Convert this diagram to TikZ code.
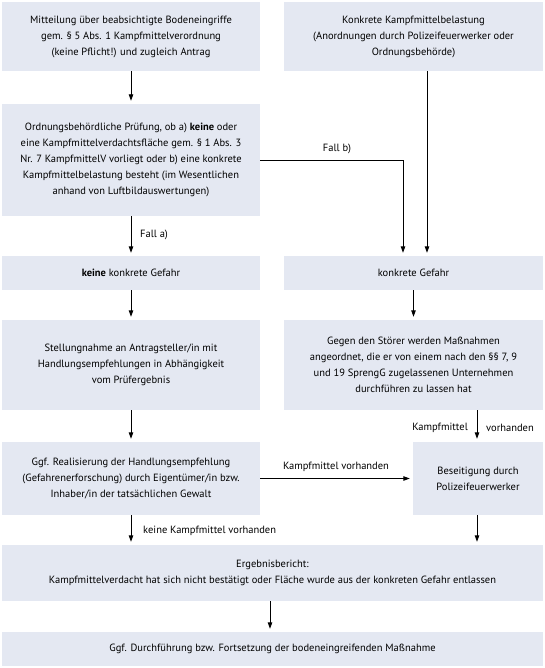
\documentclass[tikz,border=0pt]{standalone}
\usepackage{fontspec}
\setmainfont{PT Sans}
\usetikzlibrary{arrows.meta}
\definecolor{boxfill}{HTML}{E4E8F2}
\begin{document}
\begin{tikzpicture}[x=1pt,y=-1pt,
 box/.style={fill=boxfill, draw=none, align=center, font=\fontsize{10.5}{16}\selectfont, inner sep=0pt},
 arr/.style={-{Triangle[length=6.5pt,width=4.5pt]}, line width=0.9pt, shorten >=3pt},
 lbl/.style={font=\fontsize{10.5}{12}\selectfont, inner sep=0pt}]
\useasboundingbox (0,0) rectangle (545,668);
\node[box, minimum width=258pt, minimum height=69pt] (b1) at (131,36.5)
 {Mitteilung über beabsichtigte Bodeneingriffe\\gem. § 5 Abs. 1 Kampfmittelverordnung\\(keine Pflicht!) und zugleich Antrag};
\node[box, minimum width=259pt, minimum height=69pt] (b2) at (413.5,36.5)
 {Konkrete Kampfmittelbelastung\\(Anordnungen durch Polizeifeuerwerker oder\\Ordnungsbehörde)};
\node[box, minimum width=258pt, minimum height=112pt] (b3) at (131,160)
 {Ordnungsbehördliche Prüfung, ob a) \textbf{keine} oder\\eine Kampfmittelverdachtsfläche gem. § 1 Abs. 3\\Nr. 7 KampfmittelV vorliegt oder b) eine konkrete\\Kampfmittelbelastung besteht (im Wesentlichen\\anhand von Luftbildauswertungen)};
\node[box, minimum width=258pt, minimum height=34pt] (b4) at (131,273)
 {\textbf{keine} konkrete Gefahr};
\node[box, minimum width=259pt, minimum height=34pt] (b5) at (413.5,273)
 {konkrete Gefahr};
\node[box, minimum width=258pt, minimum height=90pt] (b6) at (131,365)
 {Stellungnahme an Antragsteller/in mit\\Handlungsempfehlungen in Abhängigkeit\\vom Prüfergebnis};
\node[box, minimum width=259pt, minimum height=90pt] (b7) at (413.5,365)
 {Gegen den Störer werden Maßnahmen\\angeordnet, die er von einem nach den §§ 7, 9\\und 19 SprengG zugelassenen Unternehmen\\durchführen zu lassen hat};
\node[box, minimum width=258pt, minimum height=73pt] (b8) at (131,478.5)
 {Ggf. Realisierung der Handlungsempfehlung\\(Gefahrenerforschung) durch Eigentümer/in bzw.\\Inhaber/in der tatsächlichen Gewalt};
\node[box, minimum width=130pt, minimum height=73pt] (b9) at (478,478.5)
 {Beseitigung durch\\Polizeifeuerwerker};
\node[box, minimum width=541pt, minimum height=56pt] (b10) at (272.5,573)
 {Ergebnisbericht:\\Kampfmittelverdacht hat sich nicht bestätigt oder Fläche wurde aus der konkreten Gefahr entlassen};
\node[box, minimum width=541pt, minimum height=34pt] (b11) at (272.5,649)
 {Ggf. Durchführung bzw. Fortsetzung der bodeneingreifenden Maßnahme};
\coordinate (rx) at (427,0);
\coordinate (fb) at (403,160);
\coordinate (kx) at (477,0);
\coordinate (mx) at (270,0);
\draw[arr] (b1) -- (b3);
\draw[arr] (b3) -- (b4);
\draw[arr] (b4) -- (b6);
\draw[arr] (b6) -- (b8);
\draw[arr] (b8) -- (b8 |- b10.north);
\draw[arr] (b3.east) -- (fb) -- (fb |- b5.north);
\draw[arr] (b2.south -| rx) -- (b5.north -| rx);
\draw[arr] (b5) -- (b7);
\draw[arr] (b7.south -| kx) -- (b9.north -| kx);
\draw[arr] (b8.east) -- (b9.west);
\draw[arr] (b9.south -| kx) -- (b10.north -| kx);
\draw[arr] (b10.south -| mx) -- (b11.north -| mx);
\node[lbl, anchor=west] (la) at (140,235) {Fall a)};
\node[lbl] (lb) at (337,149) {Fall b)};
\node[lbl, anchor=east] (lk1) at (468,428) {Kampfmittel};
\node[lbl, anchor=west] (lk2) at (486,428) {vorhanden};
\node[lbl] (lk3) at (336,467) {Kampfmittel vorhanden};
\node[lbl, anchor=west] (lk4) at (143,531) {keine Kampfmittel vorhanden};
\end{tikzpicture}
\end{document}
